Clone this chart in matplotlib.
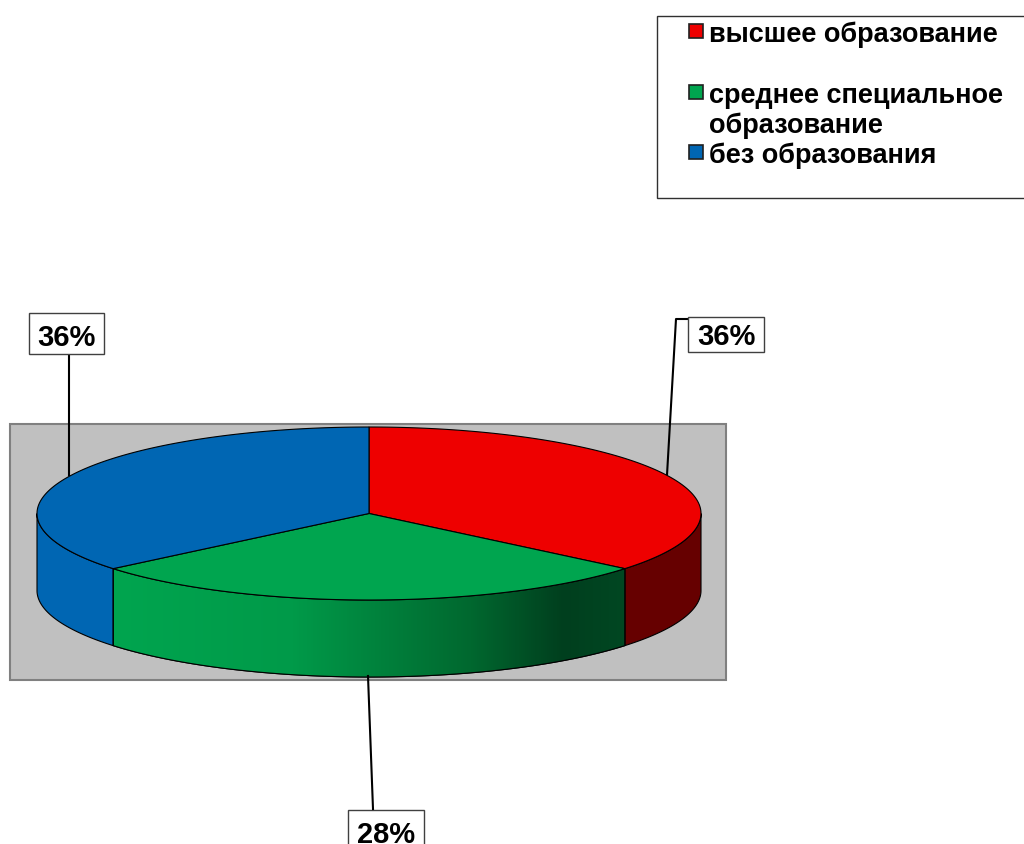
#!/usr/bin/env python3
import numpy as np
from matplotlib import pyplot as plt
from matplotlib.colors import LinearSegmentedColormap
from matplotlib.patches import Polygon, Rectangle

plt.rcParams['font.family'] = ['Liberation Sans', 'DejaVu Sans']

#chart values
categories = ['высшее образование', 'среднее специальное\nобразование', 'без образования']
shares = [36, 28, 36]
colors = ['#ee0000', '#00a54f', '#0066b3']
side_colors = ['#660000', None, '#0066b3']

#pie geometry in image pixels
cx, cy = 369, 514.5
rx, ry = 332, 86.5
depth = 77

fig = plt.figure(figsize=(10.24, 8.45), dpi=100)
ax = fig.add_axes([0, 0, 1, 1])
ax.set_xlim(0, 1024)
ax.set_ylim(845, 0)
ax.axis('off')


def rim(t0, t1, n=200):
	#points on the top ellipse, angle is clockwise from 12 o'clock in degrees
	t = np.radians(np.linspace(t0, t1, n))
	return np.column_stack((cx + rx * np.sin(t), cy - ry * np.cos(t)))


#grey backdrop
ax.add_patch(Rectangle((10, 424.5), 716, 256, fc='#c0c0c0', ec='#808080', lw=1.5, zorder=1))

#slice angles
edges = np.concatenate(([0], np.cumsum(shares))) * 3.6

#leader lines
ax.plot([688, 676, 667], [320, 320, 476], color='black', lw=1.5, zorder=2)
ax.plot([69, 69], [355, 476], color='black', lw=1.5, zorder=2)
ax.plot([368, 373], [677, 810], color='black', lw=1.5, zorder=6)

#sides, only the part facing the viewer
green_cmap = LinearSegmentedColormap.from_list('side', [(0, '#00a54f'), (0.35, '#009a49'), (0.7, '#00682f'),
	(0.88, '#003f1e'), (1, '#004722')])
for i in range(len(shares)):
	t0 = max(edges[i], 90)
	t1 = min(edges[i + 1], 270)
	top = rim(t0, t1)
	bottom = top[::-1] + [0, depth]
	side = Polygon(np.vstack((top, bottom)), closed=True, zorder=3, lw=0.8, ec='black',
		fc=side_colors[i] if side_colors[i] else 'none')
	ax.add_patch(side)
	if side_colors[i] is None:
		grad = np.linspace(0, 1, 256).reshape(1, -1)
		im = ax.imshow(grad, cmap=green_cmap, aspect='auto', zorder=3,
			extent=(top[:, 0].min(), top[:, 0].max(), bottom[:, 1].max(), top[:, 1].min()))
		im.set_clip_path(side)
		ax.add_patch(Polygon(np.vstack((top, bottom)), closed=True, zorder=3.5, lw=0.8, ec='black', fc='none'))
ax.set_xlim(0, 1024)
ax.set_ylim(845, 0)

#top face
for i in range(len(shares)):
	pts = np.vstack(([[cx, cy]], rim(edges[i], edges[i + 1])))
	ax.add_patch(Polygon(pts, closed=True, fc=colors[i], ec='black', lw=0.8, zorder=4))

#percent labels, box x y w h and text baseline
label_boxes = [(688, 318, 76, 35, 345), (348, 810.5, 76, 45, 843), (29, 314, 75, 41, 346)]
for share, (x, y, w, h, base) in zip(shares, label_boxes):
	ax.add_patch(Rectangle((x, y), w, h, fc='white', ec='#404040', lw=1, zorder=5))
	ax.text(x + w / 2, base, '%d%%' % share, fontsize=21, fontweight='bold',
		ha='center', va='baseline', zorder=6)

#legend
ax.add_patch(Rectangle((656.5, 16.5), 400, 182, fc='white', ec='#303030', lw=1, zorder=5, clip_on=True))
legend_y = [42, 103, 163]
for name, color, y in zip(categories, colors, legend_y):
	ax.add_patch(Rectangle((689, y - 17), 14, 14, fc=color, ec='#202020', lw=1.2, zorder=6))
	for n, line in enumerate(name.split('\n')):
		ax.text(709, y + n * 30, line, fontsize=19.5, fontweight='bold', ha='left', va='baseline', zorder=6)

fig.savefig('out.png', dpi=100)
